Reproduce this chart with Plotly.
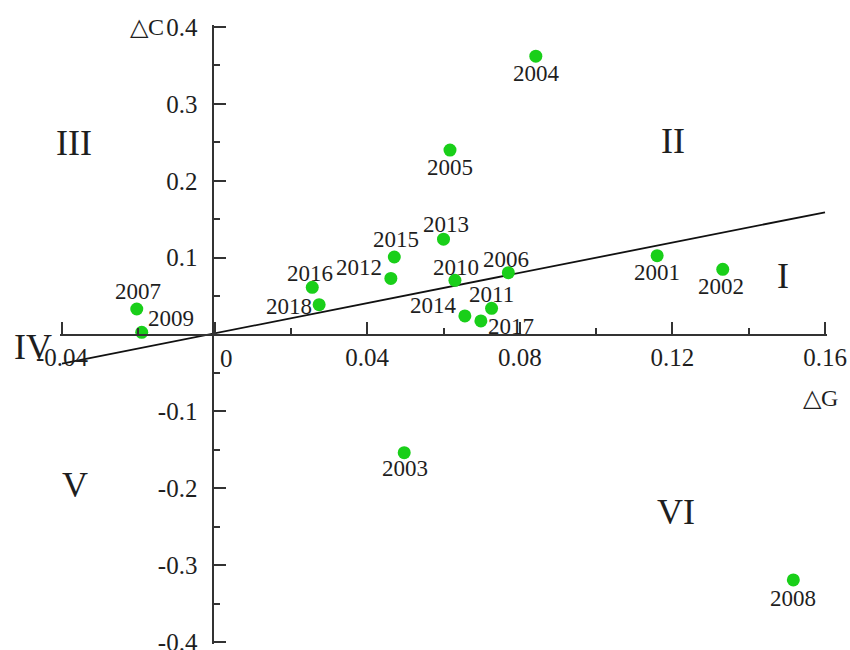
import plotly.graph_objects as go

# ---------------- data ----------------
years = ["2001", "2002", "2003", "2004", "2005", "2006", "2007", "2008", "2009",
         "2010", "2011", "2012", "2013", "2014", "2015", "2016", "2017", "2018"]
dG = [0.1160, 0.1332, 0.0497, 0.0842, 0.0617, 0.0770, -0.0204, 0.1517, -0.0191,
      0.0630, 0.0726, 0.0462, 0.0600, 0.0656, 0.0471, 0.0256, 0.0698, 0.0274]
dC = [0.1025, 0.0848, -0.1537, 0.3620, 0.2399, 0.0804, 0.0332, -0.3193, 0.0028,
      0.0705, 0.0341, 0.0730, 0.1240, 0.0241, 0.1008, 0.0614, 0.0176, 0.0388]

line_x = [-0.04, 0.16]
line_y = [-0.038, 0.159]

x_tickvals = [-0.04, 0, 0.04, 0.08, 0.12, 0.16]
x_ticktext = ["-0.04", "", "0.04", "0.08", "0.12", "0.16"]
y_tickvals = [-0.4, -0.3, -0.2, -0.1, 0, 0.1, 0.2, 0.3, 0.4]
y_ticktext = ["-0.4", "-0.3", "-0.2", "-0.1", "", "0.1", "0.2", "0.3", "0.4"]

region_names = ["I", "II", "III", "IV", "V", "VI"]

# label offsets in pixels (dx right, dy down) -- styling only
label_offsets = {
    "2001": (0, 17), "2002": (-2, 17), "2003": (1, 16), "2004": (1, 17.5),
    "2005": (0, 17), "2006": (-2, -13), "2007": (1, -17), "2008": (0, 19),
    "2009": (29, -14), "2010": (1, -13), "2011": (0, -14), "2012": (-31.5, -11),
    "2013": (2, -15), "2014": (-31, -10), "2015": (2, -18), "2016": (-2, -14),
    "2017": (30, 6), "2018": (-30, 2),
}

# ---------------- layout geometry ----------------
W, H = 850, 650
PAD = 2  # small range padding (px) so end ticks are kept
ML, MR, MT, MB = 62 - PAD, 25 - PAD, 27 - PAD, 8 - PAD
PW, PH = W - ML - MR, H - MT - MB
XPAD = 0.2 / 763 * PAD
YPAD = 0.8 / 615 * PAD


def px(xp):
    return (xp - ML) / PW


def py(yp):
    return (H - MB - yp) / PH


FONT = "Liberation Serif, Times New Roman, serif"
TXT = "#1e1e1e"
AX = "#333333"

fig = go.Figure()

fig.add_trace(go.Scatter(x=line_x, y=line_y, mode="lines",
                         line=dict(color="#111111", width=1.8),
                         hoverinfo="skip", showlegend=False))

fig.add_trace(go.Scatter(x=dG, y=dC, mode="markers",
                         marker=dict(size=13, color="#19cf19", line=dict(width=0)),
                         text=years, showlegend=False))

annotations = []
for yr, gx, cy in zip(years, dG, dC):
    dx, dy = label_offsets[yr]
    annotations.append(dict(x=gx, y=cy, xref="x", yref="y", text=yr,
                            showarrow=False, xshift=dx, yshift=-dy,
                            font=dict(family=FONT, size=23, color=TXT)))

# x tick label "0" sits just right of the y axis
annotations.append(dict(x=0, y=0, xref="x", yref="y", text="0", showarrow=False,
                        xshift=12, yshift=-24,
                        font=dict(family=FONT, size=25, color=TXT)))

# axis titles
annotations.append(dict(x=px(166), y=py(27), xref="paper", yref="paper",
                        text="△C", showarrow=False, xanchor="right", yanchor="middle",
                        font=dict(family=FONT, size=24, color=TXT)))
annotations.append(dict(x=px(820), y=py(398), xref="paper", yref="paper",
                        text="△G", showarrow=False, xanchor="center", yanchor="middle",
                        font=dict(family=FONT, size=24, color=TXT)))

# region numerals
region_pos = {"I": (783, 276), "II": (673, 141), "III": (74, 143),
              "IV": (33, 347), "V": (75, 485), "VI": (676, 512)}
for name in region_names:
    xp, yp = region_pos[name]
    annotations.append(dict(x=px(xp), y=py(yp), xref="paper", yref="paper",
                            text=name, showarrow=False, xanchor="center", yanchor="middle",
                            font=dict(family=FONT, size=36, color=TXT)))

fig.update_layout(
    width=W, height=H,
    margin=dict(l=ML, r=MR, t=MT, b=MB, autoexpand=False),
    paper_bgcolor="white", plot_bgcolor="white",
    showlegend=False,
    annotations=annotations,
    xaxis=dict(range=[-0.04 - XPAD, 0.16 + XPAD], anchor="free", position=0.5,
               automargin=False,
               showline=True, linewidth=2, linecolor=AX,
               showgrid=False, zeroline=False,
               ticks="inside", ticklen=12, tickwidth=2, tickcolor=AX,
               tickvals=x_tickvals, ticktext=x_ticktext,
               ticklabelstandoff=0, ticklabeloverflow="allow",
               minor=dict(ticks="inside", dtick=0.02, tick0=0, ticklen=6,
                          tickwidth=2, tickcolor=AX, showgrid=False),
               tickfont=dict(family=FONT, size=25, color=TXT)),
    yaxis=dict(range=[-0.4 - YPAD, 0.4 + YPAD], anchor="free", position=0.2,
               automargin=False,
               showline=True, linewidth=2, linecolor=AX,
               showgrid=False, zeroline=False,
               ticks="inside", ticklen=12, tickwidth=2, tickcolor=AX,
               tickvals=y_tickvals, ticktext=y_ticktext,
               ticklabelstandoff=10, ticklabeloverflow="allow",
               minor=dict(ticks="inside", dtick=0.05, tick0=0, ticklen=6,
                          tickwidth=2, tickcolor=AX, showgrid=False),
               tickfont=dict(family=FONT, size=25, color=TXT)),
)

fig.write_html("out.html",
               config={"displayModeBar": False},
               post_script="document.body.style.margin='0';document.body.style.overflow='hidden';")
